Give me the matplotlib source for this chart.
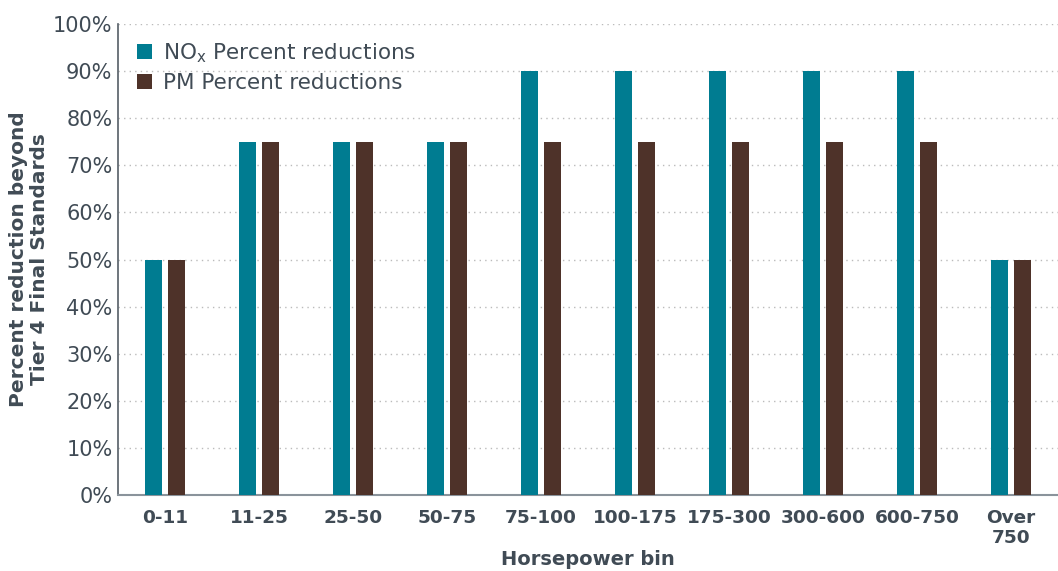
import matplotlib.pyplot as plt
import numpy as np

categories = ["0-11", "11-25", "25-50", "50-75", "75-100", "100-175",
              "175-300", "300-600", "600-750", "Over\n750"]
nox_reduction = [50, 75, 75, 75, 90, 90, 90, 90, 90, 50]
pm_reduction = [50, 75, 75, 75, 75, 75, 75, 75, 75, 50]
y_ticks = list(range(0, 101, 10))

teal = "#007C91"
brown = "#4E3229"
text_col = "#404B55"

plt.rcParams['font.family'] = ['DejaVu Sans']

fig = plt.figure(figsize=(10.58, 5.71), dpi=100)
ax = fig.add_axes([118 / 1058, 1 - 495 / 571, 940 / 1058, 471 / 571])

x = np.arange(len(categories))
w = 0.19
off = 0.122
ax.bar(x - off, nox_reduction, w, color=teal, label="NO$_\\mathregular{x}$ Percent reductions", zorder=3)
ax.bar(x + off, pm_reduction, w, color=brown, label="PM Percent reductions", zorder=3)

ax.set_xlim(-0.5, len(categories) - 0.5)
ax.set_ylim(0, 100)
ax.set_yticks(y_ticks)
ax.set_yticklabels([f"{v}%" for v in y_ticks], fontsize=15, color=text_col)
ax.set_xticks(x)
ax.set_xticklabels(categories, fontsize=13.3, fontweight='bold', color=text_col,
                   linespacing=1.15)
ax.tick_params(axis='both', length=0)
ax.tick_params(axis='x', pad=10)
ax.tick_params(axis='y', pad=4)

ax.grid(axis='y', linestyle=(0, (1, 3)), color='#BBBBBB', linewidth=1, zorder=0)
for s in ['top', 'right']:
    ax.spines[s].set_visible(False)
ax.spines['left'].set_color('#555E66')
ax.spines['bottom'].set_color('#8A939B')
ax.spines['left'].set_linewidth(1.2)
ax.spines['bottom'].set_linewidth(1.5)

ax.set_xlabel("Horsepower bin", fontsize=14, fontweight='bold', color=text_col, labelpad=2)
ax.set_ylabel("Percent reduction beyond\nTier 4 Final Standards", fontsize=14.5,
              fontweight='bold', color=text_col, labelpad=3, linespacing=1.15)

leg = ax.legend(loc='upper left', bbox_to_anchor=(0.0, 1.005), frameon=False,
                fontsize=15.5, handlelength=0.7, handleheight=0.7,
                handletextpad=0.5, labelspacing=0.4)
for t in leg.get_texts():
    t.set_color(text_col)

fig.savefig("out.png", dpi=100)
